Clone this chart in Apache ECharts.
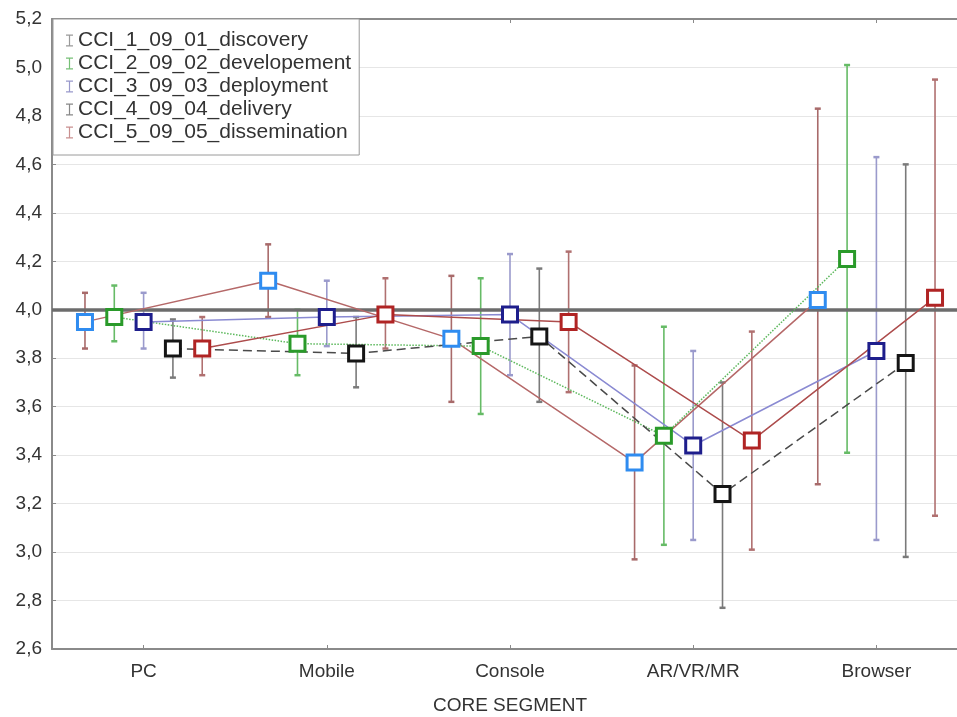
<!DOCTYPE html>
<html>
<head>
<meta charset="utf-8">
<script src="https://cdn.jsdelivr.net/npm/echarts@6/dist/echarts.min.js"></script>
<style>
  html, body { margin: 0; padding: 0; background: #fff; }
  #chart { width: 957px; height: 717px; }
</style>
</head>
<body>
<div id="chart"></div>
<script>
// Core segments on the horizontal axis
const categories = ['PC', 'Mobile', 'Console', 'AR/VR/MR', 'Browser'];

// Series names (one per value-chain stage)
const seriesNames = [
  'CCI_1_09_01_discovery',
  'CCI_2_09_02_developement',
  'CCI_3_09_03_deployment',
  'CCI_4_09_04_delivery',
  'CCI_5_09_05_dissemination'
];

// Means and confidence-interval bounds per segment
const discoveryMean = [3.95, 4.12, 3.88, 3.37, 4.04];
const discoveryLow  = [3.84, 3.97, 3.62, 2.97, 3.28];
const discoveryHigh = [4.07, 4.27, 4.14, 3.77, 4.83];

const developementMean = [3.97, 3.86, 3.85, 3.48, 4.21];
const developementLow  = [3.87, 3.73, 3.57, 3.03, 3.41];
const developementHigh = [4.10, 4.00, 4.13, 3.93, 5.01];

const deploymentMean = [3.95, 3.97, 3.98, 3.44, 3.83];
const deploymentLow  = [3.84, 3.85, 3.73, 3.05, 3.05];
const deploymentHigh = [4.07, 4.12, 4.23, 3.83, 4.63];

const deliveryMean = [3.84, 3.82, 3.89, 3.24, 3.78];
const deliveryLow  = [3.72, 3.68, 3.62, 2.77, 2.98];
const deliveryHigh = [3.96, 3.97, 4.17, 3.70, 4.60];

const disseminationMean = [3.84, 3.98, 3.95, 3.46, 4.05];
const disseminationLow  = [3.73, 3.84, 3.66, 3.01, 3.15];
const disseminationHigh = [3.97, 4.13, 4.24, 3.91, 4.95];

// Y axis ticks
const yTicks = [2.6, 2.8, 3.0, 3.2, 3.4, 3.6, 3.8, 4.0, 4.2, 4.4, 4.6, 4.8, 5.0, 5.2];
const referenceValue = 4.0;

const means = [discoveryMean, developementMean, deploymentMean, deliveryMean, disseminationMean];
const lows  = [discoveryLow, developementLow, deploymentLow, deliveryLow, disseminationLow];
const highs = [discoveryHigh, developementHigh, deploymentHigh, deliveryHigh, disseminationHigh];

// Styling per series
const markerColors = ['#2f8cf0', '#2a9a2a', '#1e1e8c', '#151515', '#b02424'];
const lineColors   = ['#b56868', '#5cb85c', '#8a8ad2', '#4a4a4a', '#ad4c4c'];
const lineTypes    = ['solid', 'dotted', 'solid', [9, 5], 'solid'];
const barColors    = ['#a86a6a', '#66bb66', '#9a9acc', '#7a7a7a', '#b07070'];
const legendColors = ['#9a9a9a', '#77c077', '#9999cc', '#888888', '#c99090'];

// horizontal dodge of the five series inside each segment
const dodge = [-0.32, -0.16, 0, 0.16, 0.32];

const FONT = '"Liberation Sans", Arial, sans-serif';
const TEXT = '#333';
const AXIS = '#8a8a8a';

const chart = echarts.init(document.getElementById('chart'), null, { renderer: 'canvas' });

const series = [];
seriesNames.forEach((name, s) => {
  const pts = means[s].map((m, i) => [i + dodge[s], m]);
  const bars = means[s].map((m, i) => [i + dodge[s], lows[s][i], highs[s][i]]);
  // confidence interval whiskers
  series.push({
    type: 'custom',
    name: name,
    z: 2,
    silent: true,
    data: bars,
    renderItem: (params, api) => {
      const x = api.value(0);
      const top = api.coord([x, api.value(2)]);
      const bot = api.coord([x, api.value(1)]);
      const cap = 3;
      const style = { stroke: barColors[s], lineWidth: 1.6, fill: null };
      return {
        type: 'group',
        children: [
          { type: 'line', shape: { x1: top[0], y1: top[1], x2: bot[0], y2: bot[1] }, style },
          { type: 'line', shape: { x1: top[0] - cap, y1: top[1], x2: top[0] + cap, y2: top[1] }, style: { stroke: barColors[s], lineWidth: 2.5 } },
          { type: 'line', shape: { x1: bot[0] - cap, y1: bot[1], x2: bot[0] + cap, y2: bot[1] }, style: { stroke: barColors[s], lineWidth: 2.5 } }
        ]
      };
    }
  });
  // means joined across segments
  const line = {
    type: 'line',
    name: name,
    z: 4,
    data: pts,
    symbol: 'rect',
    symbolSize: 15,
    itemStyle: { color: '#ffffff', borderColor: markerColors[s], borderWidth: 3 },
    lineStyle: { color: lineColors[s], width: 1.5, type: lineTypes[s] },
    emphasis: { disabled: true },
    animation: false
  };
  if (s === 0) {
    line.markLine = {
      silent: true,
      symbol: 'none',
      z: 3,
      label: { show: false },
      lineStyle: { color: '#6c6c6c', width: 3.5, type: 'solid' },
      data: [{ yAxis: referenceValue }]
    };
  }
  series.push(line);
});

const option = {
  backgroundColor: '#ffffff',
  animation: false,
  grid: { left: 52, top: 19, bottom: 68, right: -11, outerBoundsMode: 'none' },
  legend: {
    orient: 'vertical',
    left: 53,
    top: 19,
    padding: [11, 8, 12, 13],
    itemGap: 2,
    itemWidth: 7,
    itemHeight: 12,
    backgroundColor: '#ffffff',
    borderColor: '#9a9a9a',
    borderWidth: 1,
    selectedMode: false,
    textStyle: { fontFamily: FONT, fontSize: 21, color: TEXT, lineHeight: 21 },
    data: seriesNames.map((n, i) => ({
      name: n,
      icon: 'path://M0,0h7v1.2h-2.9v9.6h2.9v1.2h-7v-1.2h2.9v-9.6h-2.9z',
      itemStyle: { color: legendColors[i], borderWidth: 0 }
    }))
  },
  xAxis: [
    {
      type: 'value',
      min: -0.5,
      max: 4.5,
      name: 'CORE SEGMENT',
      nameLocation: 'middle',
      nameGap: 47,
      nameTextStyle: { fontFamily: FONT, fontSize: 19, color: TEXT },
      axisLine: { show: true, onZero: false, lineStyle: { color: AXIS, width: 2 } },
      axisTick: { show: true, inside: true, length: 4, customValues: [0, 1, 2, 3, 4], lineStyle: { color: AXIS } },
      axisLabel: {
        customValues: [0, 1, 2, 3, 4],
        margin: 13,
        fontFamily: FONT, fontSize: 19, color: TEXT,
        formatter: v => categories[Math.round(v)]
      },
      splitLine: { show: false }
    },
    {
      type: 'value',
      position: 'top',
      min: -0.5,
      max: 4.5,
      axisLine: { show: true, onZero: false, lineStyle: { color: AXIS, width: 2 } },
      axisTick: { show: true, inside: true, length: 4, customValues: [0, 1, 2, 3, 4], lineStyle: { color: AXIS } },
      axisLabel: { show: false },
      splitLine: { show: false }
    }
  ],
  yAxis: {
    type: 'value',
    min: yTicks[0],
    max: yTicks[yTicks.length - 1],
    interval: 0.2,
    axisLine: { show: true, onZero: false, lineStyle: { color: AXIS, width: 2 } },
    axisTick: { show: true, inside: true, length: 4, lineStyle: { color: AXIS } },
    axisLabel: {
      margin: 10,
      fontFamily: FONT, fontSize: 19, color: TEXT,
      formatter: v => v.toFixed(1).replace('.', ',')
    },
    splitLine: { show: true, lineStyle: { color: '#e6e6e6', width: 1 } }
  },
  series: series
};

chart.setOption(option);
</script>
</body>
</html>
